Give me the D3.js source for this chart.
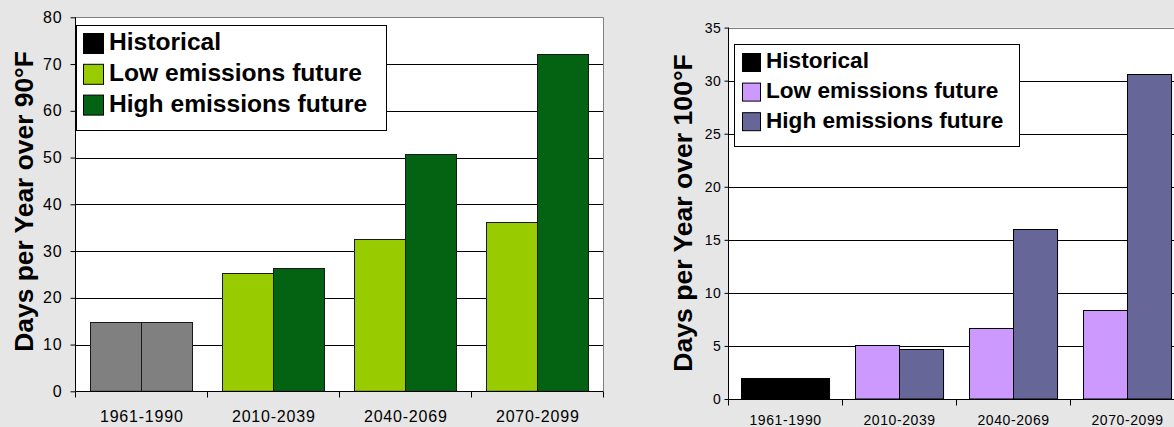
<!DOCTYPE html>
<html>
<head>
<meta charset="utf-8">
<script src="https://cdn.jsdelivr.net/npm/d3@7"></script>
<style>
  html, body { margin: 0; padding: 0; background: #e6e6e6; }
  svg { display: block; }
  text { font-family: "Liberation Sans", Arial, sans-serif; fill: #000; }
</style>
</head>
<body>
<svg id="chart" width="1174" height="427"></svg>
<script>
// Periods and legend entries
const periods = ["1961-1990", "2010-2039", "2040-2069", "2070-2099"];
const seriesNames = ["Historical", "Low emissions future", "High emissions future"];

// Days per year over 90°F (the historical period is shown as a single pair)
const over90Low  = [14.8, 25.4, 32.6, 36.3];
const over90High = [14.8, 26.4, 50.7, 72.2];
const over90Ticks = [0, 10, 20, 30, 40, 50, 60, 70, 80];

// Days per year over 100°F
const over100Low  = [2.0, 5.1, 6.7, 8.4];
const over100High = [2.0, 4.7, 16.0, 30.6];
const over100Ticks = [0, 5, 10, 15, 20, 25, 30, 35];

const svg = d3.select("#chart");

function drawPanel(cfg) {
  const g = svg.append("g");
  const x0 = d3.scaleBand().domain(periods)
    .range([cfg.left, cfg.left + cfg.band * periods.length]).padding(0);
  const x1 = d3.scaleBand().domain(["low", "high"])
    .range([0, x0.bandwidth()]).paddingInner(0).paddingOuter(0.294);
  const y = d3.scaleLinear().domain([0, cfg.max]).range([cfg.bottom, cfg.top]);

  const right = x0.range()[1];

  // plot area
  g.append("rect")
    .attr("x", cfg.left).attr("y", cfg.top)
    .attr("width", right - cfg.left).attr("height", cfg.bottom - cfg.top)
    .attr("fill", "#fff");

  // horizontal gridlines
  g.append("g").selectAll("line")
    .data(cfg.ticks.filter(t => t > 0 && t < cfg.max))
    .join("line")
    .attr("x1", cfg.left).attr("x2", right)
    .attr("y1", d => Math.round(y(d)) + 0.5).attr("y2", d => Math.round(y(d)) + 0.5)
    .attr("stroke", "#000").attr("stroke-width", 1);

  // top and right frame
  g.append("path")
    .attr("d", `M${cfg.left},${Math.round(y(cfg.max)) + 0.5}H${Math.round(right) + 0.5}V${cfg.bottom}`)
    .attr("fill", "none").attr("stroke", "#808080");

  // bars
  const rows = periods.map((p, i) => ({ p, i, low: cfg.low[i], high: cfg.high[i] }));
  const bars = [];
  rows.forEach(r => {
    bars.push({ p: r.p, key: "low", v: r.low, c: r.i === 0 ? cfg.histColor : cfg.lowColor });
    bars.push({ p: r.p, key: "high", v: r.high, c: r.i === 0 ? cfg.histColor : cfg.highColor });
  });
  g.append("g").selectAll("rect")
    .data(bars)
    .join("rect")
    .attr("x", d => Math.round(x0(d.p) + x1(d.key)) + 0.5)
    .attr("y", d => Math.round(y(d.v)) + 0.5)
    .attr("width", x1.bandwidth())
    .attr("height", d => y(0) - Math.round(y(d.v)) - 0.5)
    .attr("fill", d => d.c)
    .attr("stroke", cfg.barStroke).attr("stroke-width", 1);

  // y axis
  const yAxis = d3.axisLeft(y).tickValues(cfg.ticks).tickSize(cfg.tickLen)
    .tickPadding(cfg.tickPad).tickFormat(d3.format("d"));
  const ya = g.append("g").attr("transform", `translate(${Math.round(cfg.left) + 0.5},0)`).call(yAxis);
  ya.select(".domain").attr("stroke", "#000").attr("d", `M0,${y(cfg.max)}V${cfg.bottom}`);
  ya.selectAll(".tick line").attr("stroke", "#000");
  ya.selectAll(".tick text")
    .style("font-family", '"Liberation Sans", Arial, sans-serif')
    .style("font-size", cfg.tickFont + "px")
    .style("letter-spacing", cfg.tickSpacing + "px")
    .attr("fill", "#000");

  // x axis: ticks between categories, labels centred under each group
  const xa = g.append("g").attr("transform", `translate(0,${Math.round(cfg.bottom) + 0.5})`);
  xa.append("line").attr("x1", cfg.left).attr("x2", right).attr("stroke", "#000");
  const bounds = periods.map(p => x0(p)).concat([right]);
  xa.selectAll("line.b").data(bounds).join("line").attr("class", "b")
    .attr("x1", d => Math.round(d) + 0.5).attr("x2", d => Math.round(d) + 0.5)
    .attr("y1", 0).attr("y2", 6).attr("stroke", "#000");
  xa.selectAll("text").data(periods).join("text")
    .attr("x", d => x0(d) + x0.bandwidth() / 2 + cfg.tickSpacing / 2)
    .attr("y", cfg.labelBase - Math.round(cfg.bottom) - 0.5)
    .attr("text-anchor", "middle")
    .style("font-size", cfg.tickFont + "px")
    .style("letter-spacing", cfg.tickSpacing + "px")
    .text(d => d);

  // y axis title
  g.append("text")
    .attr("transform", `translate(${cfg.titleX},${cfg.titleY}) rotate(-90)`)
    .attr("text-anchor", "middle")
    .style("font-weight", "bold")
    .style("font-size", cfg.titleFont + "px")
    .text(cfg.title);

  // legend
  const L = cfg.legend;
  const lg = g.append("g");
  lg.append("rect")
    .attr("x", L.x + 0.5).attr("y", L.y + 0.5).attr("width", L.w).attr("height", L.h)
    .attr("fill", "#fff").attr("stroke", "#000");
  const colors = [cfg.legendHist, cfg.lowColor, cfg.highColor];
  seriesNames.forEach((name, i) => {
    lg.append("rect")
      .attr("x", L.sx + 0.5).attr("y", L.sy + i * L.step + 0.5)
      .attr("width", L.ss).attr("height", L.ss)
      .attr("fill", colors[i]).attr("stroke", "#000");
    lg.append("text")
      .attr("x", L.tx).attr("y", L.base + i * L.step)
      .style("font-weight", "bold").style("font-size", L.font + "px")
      .text(name);
  });
}

drawPanel({
  left: 75.4, band: 132, top: 17.3, bottom: 391.3, max: 80,
  ticks: over90Ticks, low: over90Low, high: over90High,
  histColor: "#808080", legendHist: "#000", lowColor: "#99cc00", highColor: "#036312",
  barStroke: "#1a1a1a",
  tickLen: 5, tickPad: 8, tickFont: 16, tickSpacing: 0.8, labelBase: 421.5,
  title: "Days per Year over 90°F", titleX: 33, titleY: 201.5, titleFont: 26.4,
  legend: { x: 76, y: 25, w: 310, h: 105, sx: 83, sy: 33, ss: 20, step: 30.8,
            tx: 109, base: 50, font: 24.6 }
});

drawPanel({
  left: 728.3, band: 114, top: 27.6, bottom: 399, max: 35,
  ticks: over100Ticks, low: over100Low, high: over100High,
  histColor: "#000", legendHist: "#000", lowColor: "#cc99ff", highColor: "#666699",
  barStroke: "#000",
  tickLen: 4, tickPad: 3, tickFont: 14, tickSpacing: 0.6, labelBase: 425,
  title: "Days per Year over 100°F", titleX: 692, titleY: 213, titleFont: 26.6,
  legend: { x: 734, y: 44, w: 285, h: 102, sx: 742, sy: 53, ss: 18, step: 29.6,
            tx: 766, base: 68.3, font: 22.6 }
});
</script>
</body>
</html>
